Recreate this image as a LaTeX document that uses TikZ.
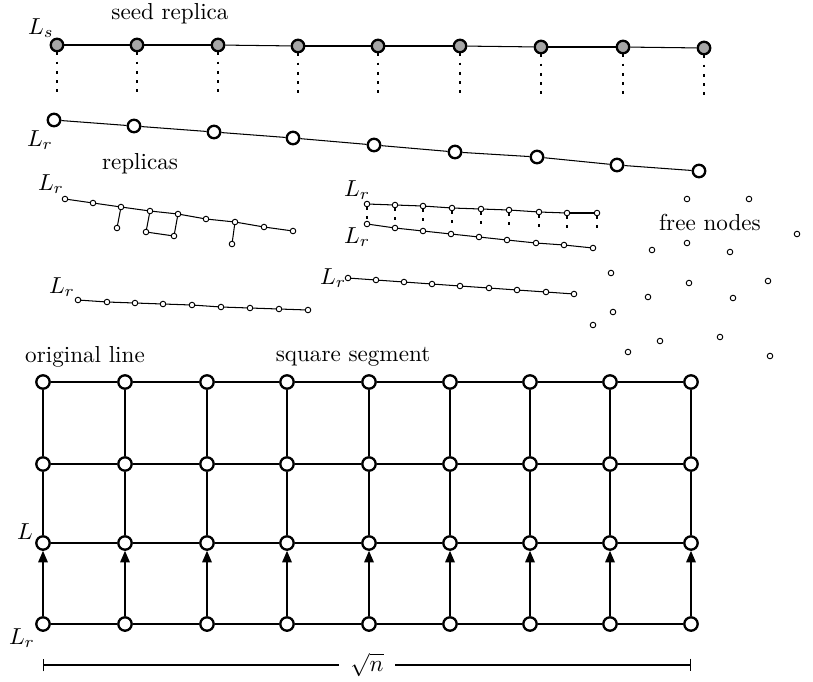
\documentclass[tikz,border=0pt]{standalone}
\usetikzlibrary{arrows.meta}
\tikzset{
  seednode/.style={circle,draw,line width=1pt,fill=black!35,inner sep=0pt,minimum size=5.4pt},
  repnode/.style={circle,draw,line width=1pt,fill=white,inner sep=0pt,minimum size=5.4pt},
  tinynode/.style={circle,draw,line width=0.4pt,fill=white,inner sep=0pt,minimum size=2.4pt},
  gridnode/.style={circle,draw,line width=1pt,fill=white,inner sep=0pt,minimum size=5.8pt},
  link/.style={line width=0.45pt},
  copylink/.style={line width=0.45pt,dash pattern=on 1.2pt off 2.8pt},
}
\begin{document}
\begin{tikzpicture}[x=0.0152cm,y=-0.0152cm]
  \useasboundingbox (0,0) rectangle (813,681);

  % seed replica and its copy
  \foreach \x/\y [count=\i] in {57/45,137/45,218/45,298/46,378/46,460/46,541/47,623/47,704/48}
    \node[seednode] (s\i) at (\x,\y) {};
  \foreach \i in {1,...,8} {\pgfmathtruncatemacro\j{\i+1} \draw[link] (s\i) -- (s\j);}
  \foreach \i in {1,...,9} {\path (s\i) ++(0,50) coordinate (sd\i); \draw[copylink] (s\i) -- (sd\i);}
  \foreach \x/\y [count=\i] in {54/120,134/126,214/132,293/138,374/145,455/152,537/157,617/165,699/171}
    \node[repnode] (r\i) at (\x,\y) {};
  \foreach \i in {1,...,8} {\pgfmathtruncatemacro\j{\i+1} \draw[link] (r\i) -- (r\j);}
  \node (lsl) at (41,28) {$L_s$};
  \node (seedl) at (170,14) {seed replica};
  \node (lrl) at (40,140) {$L_r$};
  \node (repl) at (140,164) {replicas};

  % replicas
  \foreach \x/\y [count=\i] in {65/199,93/203,121/207,150/211,178/214,206/219,235/222,264/227,293/231}
    \node[tinynode] (a\i) at (\x,\y) {};
  \foreach \i in {1,...,8} {\pgfmathtruncatemacro\j{\i+1} \draw[link] (a\i) -- (a\j);}
  \node[tinynode] (ab1) at (117,228) {};
  \node[tinynode] (ab2) at (146,232) {};
  \node[tinynode] (ab3) at (174,236) {};
  \node[tinynode] (ab4) at (232,244) {};
  \draw[link] (a3) -- (ab1);
  \draw[link] (a4) -- (ab2) -- (ab3) -- (a5);
  \draw[link] (a7) -- (ab4);
  \node (lal) at (51,184) {$L_r$};

  \foreach \x/\y [count=\i] in {78/300,107/302,135/303,163/304,192/305,221/307,250/308,279/309,308/310}
    \node[tinynode] (b\i) at (\x,\y) {};
  \foreach \i in {1,...,8} {\pgfmathtruncatemacro\j{\i+1} \draw[link] (b\i) -- (b\j);}
  \node (lbl) at (62,287) {$L_r$};

  \foreach \x/\y [count=\i] in {367/204,395/205,423/206,452/208,481/209,509/210,539/212,567/213,597/213}
    \node[tinynode] (c\i) at (\x,\y) {};
  \foreach \i in {1,...,8} {\pgfmathtruncatemacro\j{\i+1} \draw[link] (c\i) -- (c\j);}
  \foreach \i in {1,...,9} {\path (c\i) ++(0,17) coordinate (cd\i); \draw[copylink] (c\i) -- (cd\i);}
  \foreach \x/\y [count=\i] in {367/224,395/228,423/231,451/234,479/237,507/240,536/243,564/245,593/248}
    \node[tinynode] (d\i) at (\x,\y) {};
  \foreach \i in {1,...,8} {\pgfmathtruncatemacro\j{\i+1} \draw[link] (d\i) -- (d\j);}
  \node (lcl) at (357,190) {$L_r$};
  \node (ldl) at (357,237) {$L_r$};

  \foreach \x/\y [count=\i] in {348/278,376/280,404/282,432/284,460/286,489/288,517/290,546/292,574/294}
    \node[tinynode] (e\i) at (\x,\y) {};
  \foreach \i in {1,...,8} {\pgfmathtruncatemacro\j{\i+1} \draw[link] (e\i) -- (e\j);}
  \node (lel) at (333,278) {$L_r$};

  % free nodes
  \foreach \x/\y [count=\i] in {687/199,749/199,797/234,687/243,652/250,730/252,611/273,689/283,768/281,
      648/297,733/298,613/312,593/325,660/341,720/337,628/352,770/356}
    \node[tinynode] (f\i) at (\x,\y) {};
  \node (freel) at (710,222) {free nodes};

  % square segment
  \foreach \y [count=\r] in {382,464,543,624}
    \foreach \x [count=\c] in {43,125,207,287,369,450,530,610,691}
      \node[gridnode] (g\r-\c) at (\x,\y) {};
  \foreach \c in {1,...,8} {
    \pgfmathtruncatemacro\d{\c+1}
    \draw[line width=0.7pt] (g1-\c) -- (g1-\d);
    \foreach \r in {2,3,4} \draw[link] (g\r-\c) -- (g\r-\d);
  }
  \foreach \c in {1,...,9} {
    \draw[link] (g1-\c) -- (g2-\c);
    \draw[link] (g2-\c) -- (g3-\c);
    \draw[link,-{Triangle[length=5pt,width=4.2pt]}] (g4-\c) -- (g3-\c);
  }
  \node (origl) at (85,357) {original line};
  \node (sqrl) at (353,357) {square segment};
  \node (ll) at (25,532) {$L$};
  \node (lgl) at (22,638) {$L_r$};

  \coordinate (diml) at (43,665);
  \coordinate (dimr) at (691,665);
  \draw[link,{Bar[width=5.5pt]}-{Bar[width=5.5pt]}] (diml) -- (dimr)
    node[midway,fill=white,inner xsep=5pt,inner ysep=1pt] (rootn) {$\sqrt{n}$};
\end{tikzpicture}
\end{document}
